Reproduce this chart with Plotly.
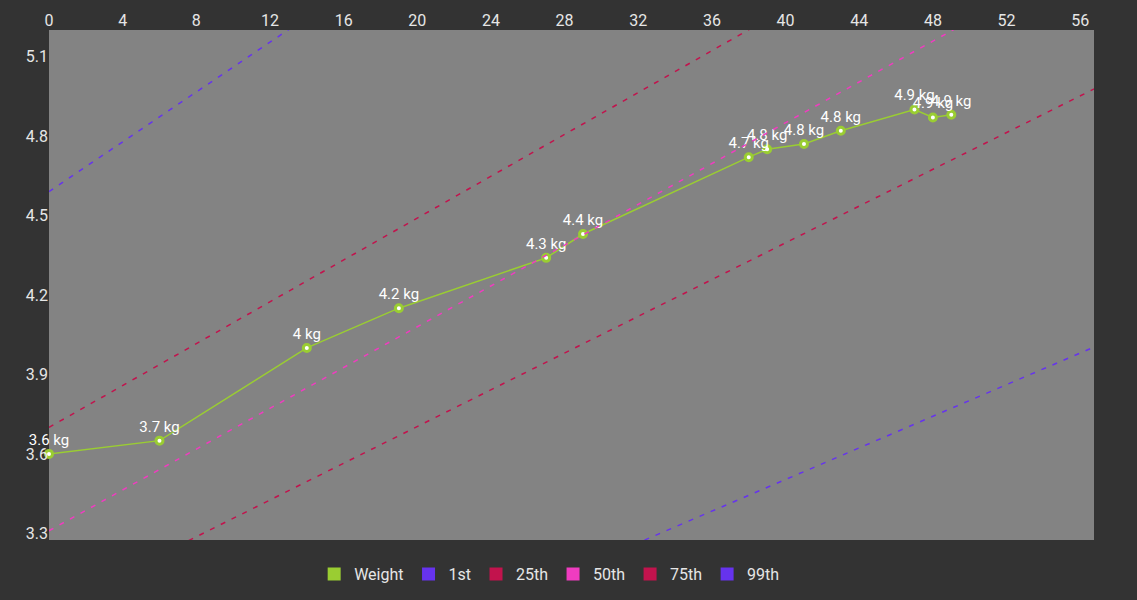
import plotly.graph_objects as go

# weight measurements (day, kg)
days = [0, 6, 14, 19, 27, 29, 38, 39, 41, 43, 47, 48, 49]
weight = [3.6, 3.65, 4.0, 4.15, 4.34, 4.43, 4.72, 4.75, 4.77, 4.82, 4.9, 4.87, 4.88]
weight_labels = ["3.6 kg", "3.7 kg", "4 kg", "4.2 kg", "4.3 kg", "4.4 kg", "4.7 kg",
                 "4.8 kg", "4.8 kg", "4.8 kg", "4.9 kg", "4.9 kg", "4.9 kg"]

# percentile reference lines (start / end)
pct_days = [0, 60]
p1 = [2.31, 4.10]
p25 = [3.01, 5.09]
p50 = [3.31, 5.62]
p75 = [3.70, 6.07]
p99 = [4.59, 7.41]

green = "#9acd32"
blue = "#6633ee"
crimson = "#c2134d"
pink = "#f03cc0"

fig = go.Figure()

fig.add_trace(go.Scatter(
    x=days, y=weight, text=weight_labels, mode="lines+markers+text",
    textposition="top center", textfont=dict(color="white", size=15),
    line=dict(color=green, width=1.5),
    marker=dict(size=7, color="white", line=dict(color=green, width=3)),
    name="Weight", legendgroup="Weight", showlegend=False, cliponaxis=False))

percentiles = [("1st", p1, blue), ("25th", p25, crimson), ("50th", p50, pink),
               ("75th", p75, crimson), ("99th", p99, blue)]
for name, vals, col in percentiles:
    fig.add_trace(go.Scatter(
        x=pct_days, y=vals, mode="lines", name=name, legendgroup=name,
        line=dict(color=col, width=1.5, dash="5px,7px"), showlegend=False))

# square legend swatches
for name, col in [("Weight", green)] + [(n, c) for n, _, c in percentiles]:
    fig.add_trace(go.Scatter(
        x=[None], y=[None], mode="markers", name=name, legendgroup=name,
        marker=dict(symbol="square", size=13, color=col)))

fig.update_layout(
    width=1137, height=600,
    paper_bgcolor="#333333", plot_bgcolor="#838383",
    margin=dict(l=49, r=43, t=30, b=60),
    font=dict(family="Roboto", color="#e6e6e6", size=16),
    legend=dict(orientation="h", xref="container", yref="container",
                x=0.483, xanchor="center", y=0.043, yanchor="middle",
                font=dict(size=16, color="#e6e6e6"), itemwidth=30,
                bgcolor="rgba(0,0,0,0)"),
)
fig.update_xaxes(side="top", range=[0, 56.75], dtick=4, tick0=0, showgrid=False,
                 zeroline=False, showline=False, ticks="", tickfont=dict(size=16))
fig.update_yaxes(range=[3.275, 5.2], dtick=0.3, tick0=3.3, showgrid=False,
                 zeroline=False, showline=False, ticks="", tickfont=dict(size=16))

fig.write_html("out.html", config={"displayModeBar": False},
               post_script="document.body.style.margin='0';")
